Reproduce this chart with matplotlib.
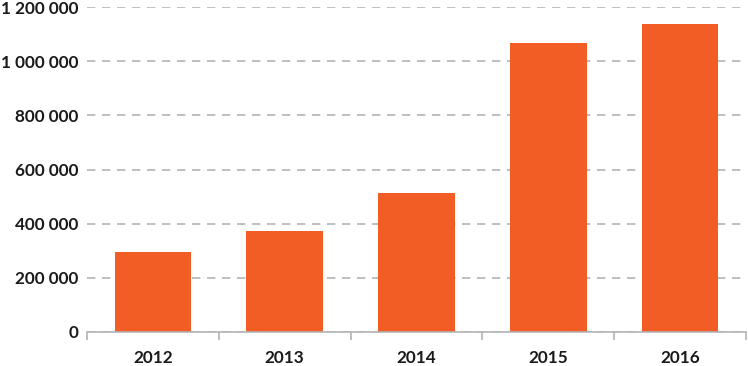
import numpy as np
import matplotlib.pyplot as plt
from matplotlib.ticker import FuncFormatter

years = ["2012", "2013", "2014", "2015", "2016"]
values = [295000, 373000, 513000, 1067000, 1137000]

BAR_COLOR = "#F15D24"
GRID_COLOR = "#B4B4B4"
TEXT_COLOR = "#1A1A1A"

plt.rcParams["font.family"] = ["Lato", "DejaVu Sans"]

fig = plt.figure(figsize=(7.48, 3.66), dpi=100)
ax = fig.add_axes([87 / 748, 34 / 366, 659 / 748, 325 / 366])

x = np.arange(len(years))
ax.bar(x, values, width=0.58, color=BAR_COLOR, zorder=3)

ax.set_xlim(-0.5, len(years) - 0.5)
ax.set_ylim(0, 1200000)
ax.set_yticks(np.arange(0, 1200001, 200000))
ax.yaxis.set_major_formatter(FuncFormatter(lambda v, _: f"{int(v):,}".replace(",", " ")))

# category labels in the middle, tick marks at the boundaries
ax.set_xticks(x)
ax.set_xticklabels(years)
ax.set_xticks(np.arange(-0.5, len(years)), minor=True)
ax.tick_params(axis="x", which="major", length=0, pad=13)
ax.tick_params(axis="x", which="minor", length=6, width=1.2, color=GRID_COLOR)
ax.tick_params(axis="y", length=0, pad=6)

for lab in ax.get_xticklabels() + ax.get_yticklabels():
    lab.set_fontweight("bold")
    lab.set_fontsize(12.3)
    lab.set_color(TEXT_COLOR)

ax.grid(axis="y", color=GRID_COLOR, linestyle=(0, (5, 4)), linewidth=1.2, zorder=0)
ax.set_axisbelow(True)
for side in ["top", "right", "left"]:
    ax.spines[side].set_visible(False)
ax.spines["bottom"].set_color(GRID_COLOR)
ax.spines["bottom"].set_linewidth(1.2)
ax.spines["bottom"].set_zorder(4)

fig.savefig("out.png", dpi=100)
